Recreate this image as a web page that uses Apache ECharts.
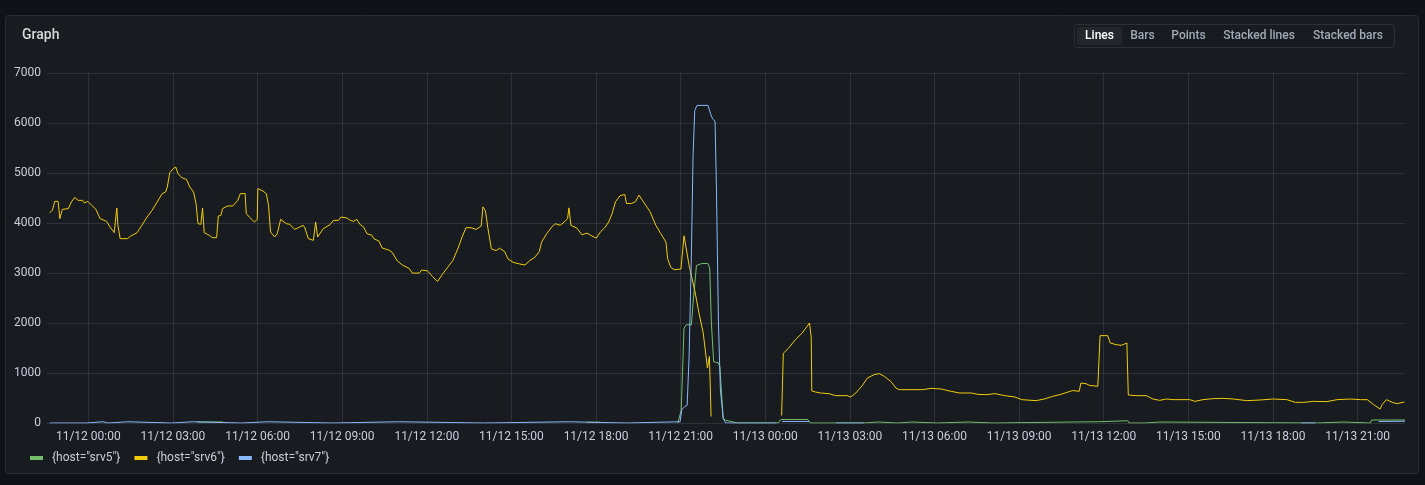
<!DOCTYPE html>
<html>
<head>
<meta charset="utf-8">
<script src="https://cdn.jsdelivr.net/npm/echarts@6/dist/echarts.min.js"></script>
<style>
  html, body { margin: 0; padding: 0; background: #111217; }
  #chart { width: 1425px; height: 485px; }
</style>
</head>
<body>
<div id="chart"></div>
<script>
// ---- data (hours relative to 11/12 00:00, value) ----
const seriesNames = ['{host="srv5"}', '{host="srv6"}', '{host="srv7"}'];
const seriesColors = ['#73bf69', '#f2cc0c', '#8ab8ff'];

const xTickLabels = ['11/12 00:00','11/12 03:00','11/12 06:00','11/12 09:00','11/12 12:00','11/12 15:00','11/12 18:00','11/12 21:00',
  '11/13 00:00','11/13 03:00','11/13 06:00','11/13 09:00','11/13 12:00','11/13 15:00','11/13 18:00','11/13 21:00'];
const yTicks = [0, 1000, 2000, 3000, 4000, 5000, 6000, 7000];
const rangeHours = [-1.464, 46.68];

const srv6 = [[-1.37,4207],[-1.27,4253],[-1.19,4433],[-1.07,4433],[-1.01,4087],[-0.92,4273],[-0.71,4287],[-0.6,4420],[-0.48,4513],[-0.36,4453],[-0.2,4453],[-0.14,4400],[-0.02,4433],[0.12,4353],[0.27,4273],[0.42,4087],[0.65,4033],[0.77,3920],[0.92,3807],[0.99,3807],[1.01,4300],[1.05,3953],[1.13,3687],[1.39,3687],[1.49,3733],[1.73,3807],[1.9,3953],[2.06,4100],[2.26,4253],[2.44,4420],[2.62,4587],[2.74,4620],[2.8,4720],[2.89,5007],[3.01,5087],[3.1,5120],[3.18,4987],[3.33,4900],[3.48,4873],[3.6,4720],[3.73,4620],[3.82,4387],[3.89,3987],[3.99,3973],[4.05,4300],[4.11,3807],[4.29,3753],[4.4,3707],[4.55,3707],[4.61,4140],[4.7,4153],[4.76,4287],[4.94,4340],[5.12,4340],[5.3,4453],[5.39,4587],[5.56,4587],[5.6,4187],[5.71,4120],[5.89,4020],[5.99,4073],[6.01,4687],[6.19,4640],[6.31,4587],[6.39,4353],[6.46,3820],[6.61,3720],[6.7,3787],[6.82,4073],[7.02,3987],[7.14,3973],[7.32,3873],[7.5,3920],[7.62,3953],[7.68,3900],[7.8,3687],[7.98,3653],[8.06,4020],[8.13,3720],[8.33,3887],[8.57,3967],[8.69,4053],[8.87,4053],[8.96,4120],[9.17,4100],[9.29,4053],[9.4,4033],[9.52,4073],[9.64,3967],[9.76,3920],[9.88,3787],[10.06,3753],[10.12,3687],[10.3,3640],[10.42,3500],[10.65,3460],[10.77,3415],[10.95,3247],[11.13,3160],[11.37,3093],[11.49,2998],[11.73,2998],[11.82,3059],[12.02,3045],[12.2,2931],[12.38,2830],[12.56,2978],[12.74,3113],[12.92,3247],[13.1,3482],[13.25,3718],[13.39,3906],[13.57,3906],[13.75,3872],[13.93,3940],[13.99,4323],[14.08,4242],[14.17,3886],[14.29,3482],[14.46,3449],[14.58,3496],[14.76,3429],[14.88,3281],[15.06,3214],[15.3,3180],[15.48,3160],[15.65,3247],[15.83,3314],[15.99,3429],[16.07,3617],[16.25,3785],[16.43,3919],[16.55,3987],[16.73,3953],[16.9,4034],[16.99,4087],[17.04,4303],[17.11,3953],[17.32,3899],[17.5,3765],[17.68,3798],[17.86,3738],[18.01,3698],[18.15,3819],[18.3,3899],[18.45,4020],[18.57,4188],[18.69,4424],[18.85,4545],[19.02,4572],[19.08,4390],[19.25,4390],[19.4,4424],[19.52,4558],[19.64,4457],[19.76,4357],[19.92,4222],[20.12,3953],[20.3,3785],[20.48,3617],[20.54,3281],[20.65,3113],[20.77,3066],[21.01,3079],[21.07,3045],[21.12,3745],[21.3,3150],[21.5,2650],[21.65,2200],[21.8,1800],[21.95,1100],[22.02,1330],[22.08,130],[23.0,null],[24.58,150],[24.64,1394],[24.82,1494],[25.06,1662],[25.31,1800],[25.57,2000],[25.63,1700],[25.65,640],[25.78,620],[25.96,600],[26.26,587],[26.49,547],[26.91,547],[27.03,520],[27.21,600],[27.44,747],[27.62,900],[27.86,967],[28.04,987],[28.22,933],[28.45,833],[28.63,700],[28.75,667],[29.58,667],[29.88,693],[30.24,680],[30.59,633],[30.89,600],[31.3,600],[31.54,573],[31.84,567],[32.14,587],[32.49,547],[32.85,520],[33.09,467],[33.6,447],[33.89,480],[34.19,533],[34.45,567],[34.9,650],[35.13,633],[35.19,800],[35.37,787],[35.49,753],[35.79,733],[35.87,1747],[36.14,1747],[36.23,1600],[36.44,1567],[36.62,1553],[36.82,1600],[36.87,560],[37.15,547],[37.51,547],[37.74,480],[37.98,453],[38.22,480],[38.46,467],[39.05,467],[39.23,433],[39.52,467],[39.88,487],[40.23,493],[40.59,480],[41.07,447],[41.54,460],[42.01,480],[42.49,467],[42.79,413],[43.08,413],[43.44,433],[43.91,427],[44.27,467],[44.74,480],[45.1,467],[45.34,467],[45.57,367],[45.8,280],[45.87,367],[46.02,467],[46.23,413],[46.4,387],[46.66,420]];

const srv5 = [[3.86,20],[4.78,20],[4.8,null],[17.68,15],[18.15,15],[18.2,null],[20.9,0],[20.96,0],[21.02,255],[21.12,1896],[21.2,1963],[21.38,1963],[21.44,2399],[21.56,3149],[21.74,3189],[21.97,3189],[22.03,3102],[22.09,1997],[22.17,1226],[22.33,1206],[22.39,1126],[22.51,87],[22.6,54],[22.86,20],[23.0,0],[24.46,0],[24.55,70],[25.5,70],[25.6,0],[27.5,0],[27.52,20],[28.0,20],[28.02,0],[28.7,0],[28.72,20],[29.2,20],[29.22,0],[30.1,0],[30.12,20],[31.2,20],[31.22,0],[32.1,0],[32.12,20],[34.9,20],[35.8,25],[35.85,45],[36.85,45],[36.9,0],[37.45,0],[37.47,20],[37.98,20],[38.0,0],[43.55,0],[43.57,20],[44.5,20],[44.52,0],[45.45,0],[45.5,60],[46.68,60]];

const srv7 = [[-1.37,0],[-0.05,0],[-0.03,25],[0.52,25],[0.54,0],[0.7,0],[0.72,25],[1.4,25],[1.42,0],[2.95,0],[2.97,25],[3.7,25],[3.72,0],[5.43,0],[5.45,25],[6.37,25],[6.39,0],[8.66,0],[8.68,25],[11.0,25],[11.02,0],[14.05,0],[14.07,25],[17.05,25],[17.07,0],[19.08,0],[19.1,25],[20.98,25],[21.04,268],[21.14,322],[21.23,355],[21.3,1327],[21.38,3337],[21.44,5347],[21.5,6251],[21.58,6352],[21.97,6352],[22.06,6184],[22.13,6084],[22.22,6037],[22.27,4677],[22.34,1997],[22.41,657],[22.51,87],[22.6,0],[24.4,0],[24.5,null],[24.6,30],[25.55,30],[25.6,null],[26.5,0],[27.5,0],[27.6,null],[43.0,0],[43.5,0],[43.6,null],[45.75,30],[46.68,35]];

// ---- helpers ----
const tickHours = xTickLabels.map(s => {
  const [md, hm] = s.split(' ');
  const day = +md.split('/')[1];
  const hr = +hm.split(':')[0];
  return (day - 12) * 24 + hr;
});
const seriesData = [srv5, srv6, srv7];

const FONT = 'Roboto, "Noto Sans", sans-serif';
const TXT = '#ccccdc';
const GRID = 'rgba(204,204,220,0.13)';

const chart = echarts.init(document.getElementById('chart'));

const btns = [
  { t: 'Lines', x: 1099.5, active: true },
  { t: 'Bars', x: 1142.5 },
  { t: 'Points', x: 1188.5 },
  { t: 'Stacked lines', x: 1259 },
  { t: 'Stacked bars', x: 1348 }
];

const graphics = [
  { type: 'rect', z: -10, shape: { x: 5.5, y: 15.5, width: 1413, height: 458, r: 3 },
    style: { fill: '#181b1f', stroke: '#2a2d33', lineWidth: 1 } },
  { type: 'text', x: 22, y: 35, style: { text: 'Graph', fill: '#d8d9da', font: '500 14px ' + FONT,
    textVerticalAlign: 'middle' } },
  { type: 'rect', shape: { x: 1074.5, y: 24.5, width: 320, height: 23, r: 2 },
    style: { fill: 'transparent', stroke: '#2c3036', lineWidth: 1 } },
  { type: 'rect', shape: { x: 1077, y: 27, width: 45, height: 18, r: 2 },
    style: { fill: '#24272d' } }
];
btns.forEach(b => graphics.push({
  type: 'text', x: b.x, y: 36,
  style: { text: b.t, fill: b.active ? '#ffffff' : '#a2a9b7', font: '500 12px ' + FONT,
           textAlign: 'center', textVerticalAlign: 'middle' }
}));

chart.setOption({
  animation: false,
  backgroundColor: '#111217',
  textStyle: { fontFamily: FONT },
  graphic: graphics,
  grid: { left: 47, right: 20, top: 73, bottom: 62, containLabel: false },
  legend: {
    left: 30, top: 452, padding: 0, itemWidth: 13, itemHeight: 4, itemGap: 14, icon: 'rect',
    data: seriesNames,
    textStyle: { color: TXT, fontSize: 12, fontFamily: FONT, padding: [0, 0, 0, 4] }
  },
  xAxis: {
    type: 'value',
    min: rangeHours[0], max: rangeHours[1],
    axisLine: { show: false },
    axisTick: { show: false, customValues: tickHours },
    splitLine: { show: true, lineStyle: { color: GRID, width: 1 } },
    axisLabel: {
      customValues: tickHours, color: TXT, fontSize: 12, margin: 8, fontFamily: FONT,
      formatter: v => { const i = tickHours.indexOf(v); return i >= 0 ? xTickLabels[i] : ''; }
    }
  },
  yAxis: {
    type: 'value', min: yTicks[0], max: yTicks[yTicks.length - 1], interval: 1000,
    axisLine: { show: false }, axisTick: { show: false },
    splitLine: { lineStyle: { color: GRID, width: 1 } },
    axisLabel: { color: TXT, fontSize: 12, margin: 6, fontFamily: FONT, formatter: v => String(v) }
  },
  series: seriesNames.map((n, i) => ({
    name: n, type: 'line', data: seriesData[i],
    showSymbol: false, symbol: 'none', connectNulls: false,
    lineStyle: { color: seriesColors[i], width: 1 },
    itemStyle: { color: seriesColors[i] },
    z: 2 + i
  }))
});
</script>
</body>
</html>
